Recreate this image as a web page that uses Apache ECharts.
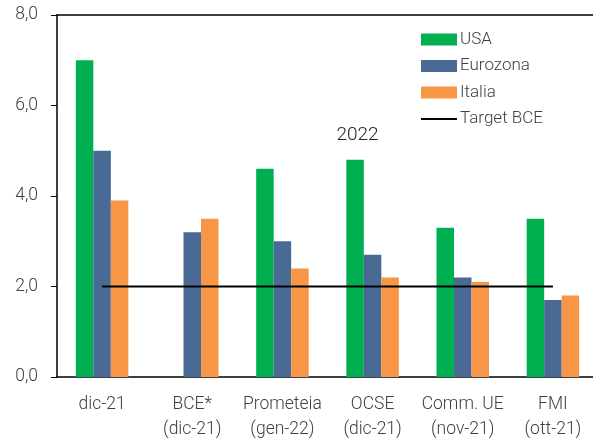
<!DOCTYPE html>
<html><head><meta charset="utf-8">
<script src="https://cdn.jsdelivr.net/npm/echarts@6/dist/echarts.min.js"></script>
<style>html,body{margin:0;padding:0;background:#fff}#c{width:593px;height:439px}</style>
</head><body><div id="c"></div>
<script>
const categories = ['dic-21', 'BCE*\n(dic-21)', 'Prometeia\n(gen-22)', 'OCSE\n(dic-21)', 'Comm. UE\n(nov-21)', 'FMI\n(ott-21)'];
const usa = [7.0, null, 4.6, 4.8, 3.3, 3.5];
const eurozona = [5.0, 3.2, 3.0, 2.7, 2.2, 1.7];
const italia = [3.9, 3.5, 2.4, 2.2, 2.1, 1.8];
const targetBCE = [2.0, 2.0, 2.0, 2.0, 2.0, 2.0];
const yTicks = [0, 2, 4, 6, 8];
const annotation = '2022';

const font = 'Roboto';
const txt = '#404040';
const chart = echarts.init(document.getElementById('c'));
chart.setOption({
  animation: false,
  textStyle: { fontFamily: font },
  grid: { left: 57, width: 541, top: 15, height: 362, outerBoundsMode: 'none', containLabel: false },
  legend: {
    orient: 'vertical', left: 416, top: 26, itemWidth: 36, itemHeight: 12, itemGap: 9.5,
    textStyle: { fontSize: 17, color: txt, fontFamily: font, fontWeight: 300, padding: [0, 0, 0, -2] },
    data: [
      { name: 'USA', icon: 'rect' },
      { name: 'Eurozona', icon: 'rect' },
      { name: 'Italia', icon: 'rect' },
      { name: 'Target BCE', icon: 'path://M0,0 L36,0 L36,2 L0,2 Z' }
    ]
  },
  xAxis: [{
    type: 'category', data: categories,
    axisLine: { lineStyle: { color: '#000', width: 1.5 } },
    axisTick: { show: false },
    axisLabel: { interval: 0, fontSize: 17.5, fontWeight: 300, color: txt, lineHeight: 25, margin: 15, fontFamily: font }
  }, {
    type: 'category', data: categories, position: 'top',
    axisLine: { show: true, lineStyle: { color: '#000', width: 1.5 } },
    axisTick: { show: false }, axisLabel: { show: false }
  }],
  yAxis: {
    type: 'value', min: yTicks[0], max: yTicks[yTicks.length - 1], interval: 2,
    axisLine: { show: true, lineStyle: { color: '#000', width: 1.5 } },
    axisTick: { show: true, length: 6, lineStyle: { color: '#000' } },
    splitLine: { show: false },
    axisLabel: { fontSize: 17.5, fontWeight: 300, color: txt, margin: 19, fontFamily: font,
      formatter: v => v.toFixed(1).replace('.', ',') }
  },
  series: [
    { name: 'USA', type: 'bar', data: usa, barWidth: 17.5, barGap: '0%', itemStyle: { color: '#00B050' } },
    { name: 'Eurozona', type: 'bar', data: eurozona, barWidth: 17.5, barGap: '0%', itemStyle: { color: '#4A6A96' } },
    { name: 'Italia', type: 'bar', data: italia, barWidth: 17.5, barGap: '0%', itemStyle: { color: '#F79646' } },
    { name: 'Target BCE', type: 'line', data: targetBCE, symbol: 'none', lineStyle: { color: '#000', width: 2 }, itemStyle: { color: '#000' }, z: 5 }
  ]
});
const p = chart.convertToPixel({ xAxisIndex: 0, yAxisIndex: 0 }, [3, 5.35]);
chart.setOption({
  graphic: [{ type: 'text', x: p[0] - 15, y: p[1], style: { text: annotation, fontSize: 19, fontWeight: 300, fill: '#222', fontFamily: font, align: 'center', verticalAlign: 'middle' } }]
});
</script></body></html>
